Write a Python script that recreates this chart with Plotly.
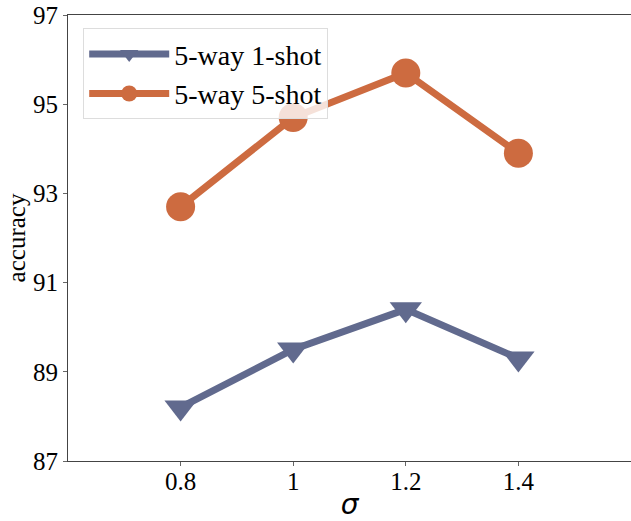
import plotly.graph_objects as go

sigma = [0.8, 1.0, 1.2, 1.4]
one_shot = [88.2, 89.5, 90.4, 89.3]
five_shot = [92.7, 94.7, 95.7, 93.9]
x_ticks = [0.8, 1.0, 1.2, 1.4]
x_tick_labels = ["0.8", "1", "1.2", "1.4"]
y_ticks = [87, 89, 91, 93, 95, 97]

font_family = "Liberation Serif, Times New Roman, serif"

fig = go.Figure()
fig.add_trace(go.Scatter(
    x=sigma, y=one_shot, mode="lines+markers", name="5-way 1-shot",
    line=dict(color="#616a8e", width=7),
    marker=dict(symbol="triangle-down", size=28, color="#616a8e"),
))
fig.add_trace(go.Scatter(
    x=sigma, y=five_shot, mode="lines+markers", name="5-way 5-shot",
    line=dict(color="#cd6b40", width=7),
    marker=dict(symbol="circle", size=29, color="#cd6b40"),
))

fig.update_layout(
    width=631, height=521,
    margin=dict(l=68, r=0, t=15, b=60),
    paper_bgcolor="white", plot_bgcolor="white",
    font=dict(family=font_family, size=25, color="black"),
    showlegend=True,
    legend=dict(
        x=0.027, y=0.97, xanchor="left", yanchor="top",
        bgcolor="rgba(255,255,255,0.8)", bordercolor="#dddddd", borderwidth=1,
        font=dict(family=font_family, size=28),
        itemwidth=80, tracegroupgap=0,
    ),
    xaxis=dict(
        range=[0.6, 1.6], tickvals=x_ticks, ticktext=x_tick_labels,
        showgrid=False, zeroline=False, showline=True, linecolor="#444444",
        linewidth=1.2, mirror=True, ticks="outside", ticklen=4, tickcolor="#666666",
        automargin=False, ticklabelstandoff=-6,
        title=dict(text="<i>σ</i>", font=dict(size=28, family="DejaVu Sans"), standoff=4),
    ),
    yaxis=dict(
        range=[87, 97], tickvals=y_ticks,
        showgrid=False, zeroline=False, showline=True, linecolor="#444444",
        linewidth=1.2, mirror=True, ticks="outside", ticklen=4, tickcolor="#666666",
        automargin=False,
        title=dict(text="accuracy", font=dict(size=25), standoff=0),
    ),
)

fig.write_html("out.html", config={"displayModeBar": False},
               post_script="document.body.style.margin='0';")
